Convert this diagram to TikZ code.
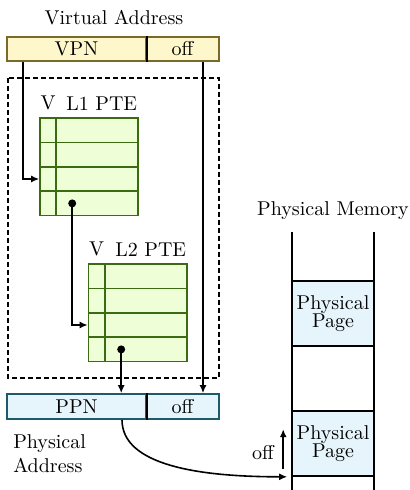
\documentclass[tikz,border=0pt]{standalone}
\usepackage{xcolor}
\usepackage{tikz}
\usetikzlibrary{arrows.meta,positioning,calc}
\definecolor{vafill}{HTML}{FFF7CC}
\definecolor{vadraw}{HTML}{7A6A2A}
\definecolor{ptefill}{HTML}{EEFFD8}
\definecolor{ptedraw}{HTML}{3A6B10}
\definecolor{pafill}{HTML}{E6F5FC}
\definecolor{padraw}{HTML}{1F5A6A}

\begin{document}
\begin{tikzpicture}[
  x=0.5pt, y=-0.5pt,
  vabox/.style={rectangle, draw=vadraw, fill=vafill, line width=0.8pt,
              minimum height=12pt, inner sep=0pt},
  pabox/.style={rectangle, draw=padraw, fill=pafill, line width=0.8pt,
              minimum height=12.5pt, inner sep=0pt},
  vcell/.style={rectangle, draw=ptedraw, fill=ptefill, line width=0.8pt,
              minimum width=8pt, minimum height=12.2pt, inner sep=0pt},
  ecell/.style={rectangle, draw=ptedraw, fill=ptefill, line width=0.8pt,
              minimum width=41pt, minimum height=12.2pt, inner sep=0pt},
  pagebox/.style={rectangle, draw=black, fill=pafill, line width=0.8pt,
              minimum width=41pt, minimum height=32.5pt, inner sep=0pt, align=center},
  dot/.style={circle, fill=black, inner sep=0pt, minimum size=4pt},
  arrow/.style={-{Latex[length=4pt,width=3.5pt]}, line width=0.8pt},
]
\useasboundingbox (0,0) rectangle (409,490);

% Virtual address
\node[vabox, minimum width=69.5pt] (vpn) at (76.5,49) {VPN};
\node[vabox, minimum width=36.5pt] (voff) at (182.5,49) {off};
\draw[line width=0.8pt] (vpn.north east) -- (vpn.south east);
\node (valabel) at (114,18) {Virtual Address};

% Page table walk
\draw[dash pattern=on 2.5pt off 1.5pt, line width=0.6pt] (8,78) rectangle (219,378);

% L1 table
\foreach \i in {1,...,4} {
  \node[vcell] (l1v\i) at (48,{118+24.4*(\i-0.5)}) {};
  \node[ecell] (l1e\i) at (97,{118+24.4*(\i-0.5)}) {};
}
\node[above=0pt of l1v1] {V};
\node[above right=0pt and 2pt of l1e1.north west] {L1 PTE};

% L2 table
\foreach \i in {1,...,4} {
  \node[vcell] (l2v\i) at (96.5,{264+24.4*(\i-0.5)}) {};
  \node[ecell] (l2e\i) at (146,{264+24.4*(\i-0.5)}) {};
}
\node[above=0pt of l2v1] {V};
\node[above right=0pt and 2pt of l2e1.north west] {L2 PTE};

% Physical address
\node[pabox, minimum width=69.5pt] (ppn) at (76.5,406.5) {PPN};
\node[pabox, minimum width=36.5pt] (poff) at (182.5,406.5) {off};
\draw[line width=0.8pt] (ppn.north east) -- (ppn.south east);
\node[below right=4pt and 0pt of ppn.south west, align=left] (palabel) {Physical\\Address};

% Physical memory
\node[pagebox] (page1) at (333,313.5) {Physical\\[-3pt]Page};
\node[pagebox] (page2) at (333,443.5) {Physical\\[-3pt]Page};
\draw[line width=0.8pt] (292,232) -- (292,490);
\draw[line width=0.8pt] (374,232) -- (374,490);
\node (pmlabel) at (333,211) {Physical Memory};

% Walk arrows
\draw[arrow] ([xshift=8.5pt]vpn.south west) |- (l1v3.west);
\node[dot] (d1) at ([xshift=8.5pt]l1e4.west) {};
\draw[arrow] (d1.center) |- (l2v3.west);
\node[dot] (d2) at ([xshift=8.5pt]l2e4.west) {};
\draw[arrow] (d2.center) -- (d2 |- ppn.north);
\draw[arrow] ([xshift=10.25pt]voff.south) -- ([xshift=10.25pt]poff.north);

% Into memory
\draw[arrow] ([xshift=22.75pt]ppn.south) .. controls +(0,45) and +(-90,0) .. ([xshift=-2pt]page2.south west);
\draw[arrow] ([xshift=-4pt,yshift=4pt]page2.south west) -- ([xshift=-4pt,yshift=-9.5pt]page2.north west)
  node[pos=0.4, left=1pt] {off};

\end{tikzpicture}
\end{document}
